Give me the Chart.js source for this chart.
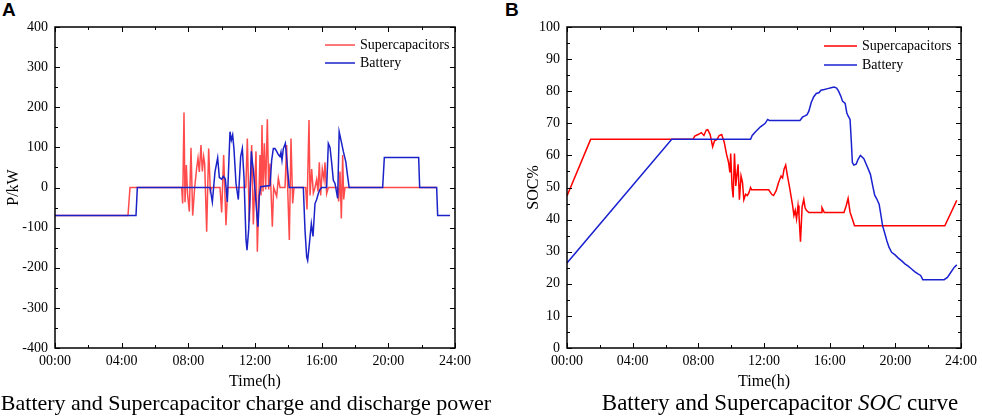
<!DOCTYPE html>
<html>
<head>
<meta charset="utf-8">
<script src="https://cdn.jsdelivr.net/npm/chart.js@4.4.1/dist/chart.umd.min.js"></script>
<style>
  body { margin: 0; width: 982px; height: 417px; background: #fff; position: relative; overflow: hidden; font-family: "Liberation Serif", "Times New Roman", serif; }
  .panel { position: absolute; top: 0; }
  .letter { position: absolute; top: 0; font: bold 19px "Liberation Sans", Arial, sans-serif; line-height: 19px; }
  .caption { position: absolute; top: 390px; line-height: 26px; text-align: center; white-space: nowrap; }
</style>
</head>
<body>
<div class="letter" style="left:2px">A</div>
<div class="letter" style="left:505px">B</div>
<div class="panel" style="left:0"><canvas id="powerChart" width="490" height="392"></canvas></div>
<div class="panel" style="left:520px"><canvas id="socChart" width="462" height="392"></canvas></div>
<div class="caption" style="left:0;width:492px;font-size:22px">Battery and Supercapacitor charge and discharge power</div>
<div class="caption" style="left:530px;width:500px;font-size:23px">Battery and Supercapacitor <i>SOC</i> curve</div>

<script>
// DATA
const timeLabels = ["00:00", "04:00", "08:00", "12:00", "16:00", "20:00", "24:00"];
const seriesNames = ["Supercapacitors", "Battery"];

// power (kW), time in hours
const scTime = [
  0, 4.38, 4.5, 7.6, 7.66, 7.74, 7.8, 7.88, 7.95, 8.06,
  8.16, 8.26, 8.38, 8.5, 8.58, 8.66, 8.76, 8.84, 8.92, 8.98,
  9.1, 9.22, 9.32, 9.4, 9.9, 10.0, 10.12, 10.26, 10.36, 11.45,
  11.54, 11.66, 11.8, 11.9, 12.06, 12.14, 12.3, 12.36, 12.42, 12.48,
  12.56, 12.64, 12.74, 12.82, 12.9, 13.04, 13.12, 13.3, 13.4, 13.5,
  13.8, 13.9, 13.96, 14.06, 14.16, 14.26, 14.34, 15.04, 15.12, 15.24,
  15.3, 15.4, 15.5, 15.6, 15.7, 15.78, 15.86, 15.94, 16.04, 16.14,
  16.2, 16.3, 16.4, 16.95, 17.02, 17.1, 17.18, 17.26, 17.32, 17.4,
  22.9
];
const scPower = [
  -70, -70, 0, 0, -40, 187, -37, 56, -15, -60,
  99, -70, 0, 48, 73, 39, 106, 40, 77, 60,
  -110, 97, -8, 0, 0, -62, 81, -94, 0, 0,
  122, -85, 106, -92, 90, -160, 81, -20, 156, -10,
  110, -5, 170, -5, 60, -98, 0, -22, 23, 0,
  0, 106, 0, -131, 122, -40, 0, 0, -55, 168,
  -20, 46, -14, 0, 20, -10, 63, -20, 46, 20,
  63, -15, 0, 0, -35, 40, -77, 81, -30, 0,
  0
];
const batTime = [
  0, 4.86, 4.94, 9.3, 9.44, 9.6, 9.76, 9.86, 10.0, 10.1,
  10.22, 10.34, 10.5, 10.58, 10.66, 10.74, 10.86, 11.0, 11.14, 11.24,
  11.34, 11.46, 11.52, 11.62, 11.7, 11.78, 11.84, 11.9, 12.0, 12.1,
  12.18, 12.26, 12.34, 12.9, 13.0, 13.1, 13.2, 13.3, 13.4, 13.5,
  13.56, 13.62, 13.7, 13.82, 14.05, 14.9, 15.0, 15.1, 15.16, 15.24,
  15.38, 15.48, 15.6, 15.7, 15.8, 15.9, 16.0, 16.3, 16.4, 16.5,
  16.6, 16.7, 16.8, 16.96, 17.05, 17.2, 17.3, 17.45, 17.55, 17.65,
  19.66, 19.76, 21.82, 21.88, 22.9, 22.96, 23.7
];
const batPower = [
  -70, -70, 0, 0, -36, 39, 74, 25, 21, 28,
  21, -36, 139, 118, 131, 95, 10, -30, 77, 97,
  25, -130, -156, -105, -20, 90, 64, 44, -5, -60,
  -98, -20, 2, 5, 68, 97, 97, 90, 82, 77,
  88, 68, 97, 110, 0, 0, -106, -173, -182, -150,
  -90, -122, -40, -30, -15, -5, 0, 0, 110, 100,
  62, 18, 10, -27, 139, 110, 90, 64, 30, 0,
  0, 75, 75, 0, 0, -70, -70
];

// state of charge (%), time in hours
const scSocTime = [
  0, 1.44, 7.68, 7.78, 7.98, 8.18, 8.34, 8.48, 8.57, 8.72,
  8.87, 8.98, 9.14, 9.27, 9.42, 9.58, 9.72, 9.84, 9.92, 9.97,
  10.05, 10.12, 10.2, 10.28, 10.34, 10.42, 10.5, 10.6, 10.69, 10.77,
  10.88, 10.98, 11.08, 11.18, 11.24, 12.28, 12.48, 12.58, 12.74, 12.88,
  13.04, 13.13, 13.22, 13.32, 13.41, 13.54, 13.64, 13.74, 13.82, 13.9,
  13.98, 14.07, 14.13, 14.22, 14.32, 14.42, 14.5, 14.58, 14.73, 15.47,
  15.53, 15.61, 15.67, 16.87, 17.01, 17.12, 17.24, 17.38, 17.51, 23.01,
  23.74
];
const scSoc = [
  47.4, 65, 65, 66, 66.5, 67.1, 66.2, 67.9, 68, 66.5,
  62.7, 64.5, 65, 66.2, 66.5, 64, 60.3, 57.8, 54.7, 60.6,
  50.5, 46.9, 60.6, 50.5, 53.6, 57.2, 46.2, 53.6, 51.5, 46.2,
  47.9, 47.5, 48.4, 50, 49.3, 49.3, 47.8, 47.5, 49, 51.5,
  53.6, 53, 55.7, 57, 54.1, 50.5, 47.5, 44.4, 41.3, 42.9,
  40.2, 44.4, 41.3, 33.1, 44, 46.3, 43.7, 42.9, 42.2, 42.2,
  43.7, 42.9, 42.2, 42.2, 44.4, 46.6, 42.3, 40.2, 38.1, 38.1,
  46
];
const batSocTime = [
  0, 6.38, 11.18, 11.28, 11.48, 11.68, 11.78, 11.97, 12.07, 12.22,
  12.32, 14.19, 14.34, 14.49, 14.62, 14.73, 14.87, 15.02, 15.18, 15.34,
  15.47, 15.67, 15.88, 16.08, 16.27, 16.42, 16.54, 16.68, 16.78, 16.94,
  17.04, 17.12, 17.24, 17.32, 17.38, 17.47, 17.61, 17.73, 17.87, 18.08,
  18.27, 18.48, 18.62, 18.74, 18.87, 19.01, 19.11, 19.22, 19.34, 19.48,
  19.61, 19.77, 19.98, 20.18, 20.37, 20.58, 20.78, 20.97, 21.17, 21.38,
  21.54, 21.67, 22.97, 23.17, 23.38, 23.58, 23.74
];
const batSoc = [
  26.5, 65, 65, 66.2, 67.4, 68.4, 68.9, 69.6, 70, 71.2,
  70.9, 70.9, 71.9, 72.3, 72.7, 73.8, 76.4, 78.2, 79.3, 79.5,
  80.3, 80.5, 80.8, 81.1, 81.3, 81, 80, 78.4, 76.9, 76.2,
  73.3, 72.3, 71.2, 64, 57.8, 57, 57.3, 58.8, 60, 59,
  56.7, 54.1, 50.5, 47.6, 46.4, 44.8, 41.7, 38.1, 36, 33.4,
  31.4, 29.8, 29, 28, 27.2, 26.2, 25.5, 24.7, 23.8, 23.1,
  22.6, 21.3, 21.3, 22, 23.6, 25.1, 25.9
];

const serif = "'Liberation Serif', 'Times New Roman', serif";
Chart.defaults.font.family = serif;
Chart.defaults.color = "#000";

const zip = (xs, ys) => xs.map((x, i) => ({ x: x, y: ys[i] }));

// frame, inward ticks on all four sides, legend inside the plot
const frameTicks = {
  id: "frameTicks",
  afterDraw(chart, args, opts) {
    const { ctx, chartArea: a, scales } = chart;
    const sx = scales.x, sy = scales.y;
    ctx.save();
    ctx.strokeStyle = "#000";
    ctx.lineWidth = 1;
    ctx.beginPath();
    const nx = Math.round((sx.max - sx.min) / opts.xMinor);
    for (let i = 0; i <= nx; i++) {
      const px = Math.round(sx.getPixelForValue(sx.min + i * opts.xMinor)) + 0.5;
      const len = i % 2 === 0 ? 5 : 3;
      ctx.moveTo(px, a.bottom); ctx.lineTo(px, a.bottom - len);
      ctx.moveTo(px, a.top); ctx.lineTo(px, a.top + len);
    }
    const ny = Math.round((sy.max - sy.min) / opts.yMinor);
    for (let i = 0; i <= ny; i++) {
      const py = Math.round(sy.getPixelForValue(sy.min + i * opts.yMinor)) + 0.5;
      const len = i % 2 === 0 ? 5 : 3;
      ctx.moveTo(a.left, py); ctx.lineTo(a.left + len, py);
      ctx.moveTo(a.right, py); ctx.lineTo(a.right - len, py);
    }
    ctx.stroke();
    ctx.lineWidth = 1.5;
    ctx.strokeRect(a.left, a.top, a.right - a.left, a.bottom - a.top);

    // legend
    const lg = opts.legend;
    ctx.font = "14px " + serif;
    ctx.textBaseline = "middle";
    ctx.fillStyle = "#000";
    chart.data.datasets.forEach((ds, i) => {
      const y = lg.y + i * lg.dy;
      ctx.strokeStyle = ds.borderColor;
      ctx.lineWidth = 1.5;
      ctx.beginPath();
      ctx.moveTo(lg.x, y); ctx.lineTo(lg.x + lg.len, y);
      ctx.stroke();
      ctx.fillText(ds.label, lg.x + lg.len + 5, y);
    });
    ctx.restore();
  }
};

function makeChart(id, cfg) {
  return new Chart(document.getElementById(id), {
    type: "line",
    data: {
      datasets: [
        { label: seriesNames[0], data: cfg.red, borderColor: cfg.redColor, borderWidth: 1.5, pointRadius: 0, order: 2 },
        { label: seriesNames[1], data: cfg.blue, borderColor: cfg.blueColor, borderWidth: 1.5, pointRadius: 0, order: 1 },
      ],
    },
    options: {
      responsive: false,
      animation: false,
      layout: { padding: { top: 27, right: cfg.padRight, left: 0, bottom: 0 } },
      plugins: {
        legend: { display: false },
        tooltip: { enabled: false },
        frameTicks: cfg.frame,
      },
      scales: {
        x: {
          type: "linear",
          min: 0,
          max: 24,
          afterFit: (s) => { s.height = 44; },
          grid: { display: false, drawTicks: false },
          border: { display: false },
          ticks: { stepSize: 4, padding: 5, font: { size: 14 }, callback: (v) => timeLabels[v / 4] },
          title: { display: true, text: "Time(h)", font: { size: 16 }, padding: { top: 0, bottom: 1 } },
        },
        y: {
          min: cfg.yMin,
          max: cfg.yMax,
          afterFit: (s) => { s.width = cfg.yWidth; },
          grid: { display: false, drawTicks: false },
          border: { display: false },
          ticks: { stepSize: cfg.yStep, padding: 7, font: { size: 14 } },
          title: { display: true, text: cfg.yTitle, font: { size: 16 }, padding: { top: 4, bottom: 0 } },
        },
      },
    },
    plugins: [frameTicks],
  });
}

makeChart("powerChart", {
  red: zip(scTime, scPower),
  blue: zip(batTime, batPower),
  redColor: "rgba(255, 30, 30, 0.8)",
  blueColor: "#1a22c8",
  yMin: -400, yMax: 400, yStep: 100,
  yTitle: "P/kW",
  yWidth: 55,
  padRight: 35,
  frame: { xMinor: 2, yMinor: 50, legend: { x: 325, y: 45, dy: 18, len: 30 } },
});

makeChart("socChart", {
  red: zip(scSocTime, scSoc),
  blue: zip(batSocTime, batSoc),
  redColor: "#ff0000",
  blueColor: "#1a22d0",
  yMin: 0, yMax: 100, yStep: 10,
  yTitle: "SOC%",
  yWidth: 47,
  padRight: 15,
  frame: { xMinor: 2, yMinor: 5, legend: { x: 304, y: 46, dy: 19, len: 33 } },
});
</script>
</body>
</html>
